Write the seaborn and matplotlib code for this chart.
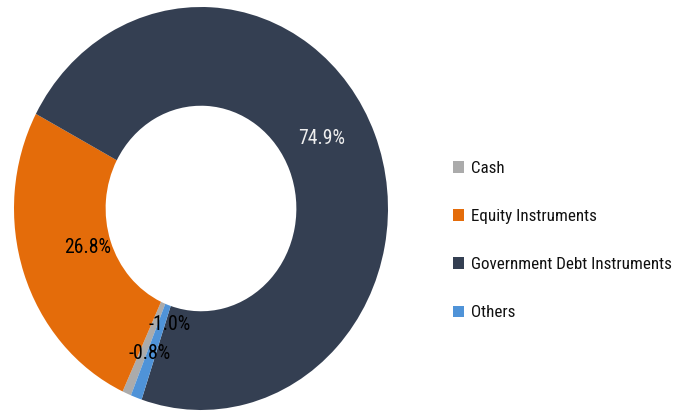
import matplotlib
matplotlib.use("Agg")
import matplotlib.pyplot as plt
from matplotlib import font_manager
import seaborn as sns

# ---- data ----
categories = ["Cash", "Equity Instruments", "Government Debt Instruments", "Others"]
values = [-0.8, 26.8, 74.9, -1.0]          # percent, as labelled
label_texts = ["-0.8%", "26.8%", "74.9%", "-1.0%"]

# ---- style ----
sns.set_theme(style="white")

# pick a narrow font if one is installed
fam, stretch = "DejaVu Sans", "normal"
entries = font_manager.fontManager.ttflist
names = {f.name for f in entries}
for cand in ["Liberation Sans Narrow", "Roboto Condensed", "Open Sans Condensed",
             "Noto Sans Condensed", "DejaVu Sans Condensed"]:
    if cand in names:
        fam = cand
        break
else:
    cond = [f for f in entries if str(f.stretch) in ("condensed", "semi-condensed", "extra-condensed")]
    if cond:
        fam, stretch = cond[0].name, cond[0].stretch
plt.rcParams["font.family"] = [fam, "DejaVu Sans"]
plt.rcParams["font.stretch"] = stretch

colors = ["#ABABAB", "#E46C0A", "#343F52", "#4F93D8"]
label_colors = ["#000000", "#000000", "#EEEEEE", "#000000"]
# label positions in axes-data units (manual placement as in the reference)
label_pos = [(-0.273, -0.722), (-0.604, -0.196), (0.647, 0.345), (-0.166, -0.578)]

W, H = 687, 412
fig = plt.figure(figsize=(W / 100, H / 100), dpi=100)
renderer = fig.canvas.get_renderer()


def fit_size(text, target_px, base=12):
    t = fig.text(0, 0, text, fontsize=base)
    w = t.get_window_extent(renderer).width
    t.remove()
    return base * target_px / w


legend_fs = min(13, fit_size("Government Debt Instruments", 200))
label_fs = min(15, fit_size("-0.8%", 42))

# donut bounding box in pixels: x 14..388, y 7..410 (slightly stretched vertically)
ax = fig.add_axes([14 / W, (H - 410) / H, 374 / W, 403 / H])

sizes = [abs(v) for v in values]
wedges, _ = ax.pie(
    sizes,
    colors=colors,
    startangle=248,
    counterclock=False,
    radius=1.0,
    wedgeprops=dict(width=0.49, linewidth=0),
)
ax.set_aspect("auto")
ax.set_xlim(-1, 1)
ax.set_ylim(-1, 1)
ax.axis("off")

for txt, (x, y), c in zip(label_texts, label_pos, label_colors):
    ax.text(x, y, txt, ha="center", va="center", fontsize=label_fs, color=c)

row_px = 48.5
fs_px = legend_fs * 100 / 72
fig.legend(
    wedges,
    categories,
    loc="center left",
    bbox_to_anchor=(453 / W, 1 - 240.5 / H),
    frameon=False,
    fontsize=legend_fs,
    handlelength=11 / fs_px,
    handleheight=11 / fs_px,
    handletextpad=7 / fs_px,
    labelspacing=(row_px - 1.2 * fs_px + 5) / fs_px,
    borderpad=0,
    borderaxespad=0,
    labelcolor="#111111",
)

fig.savefig("out.png", dpi=100)
